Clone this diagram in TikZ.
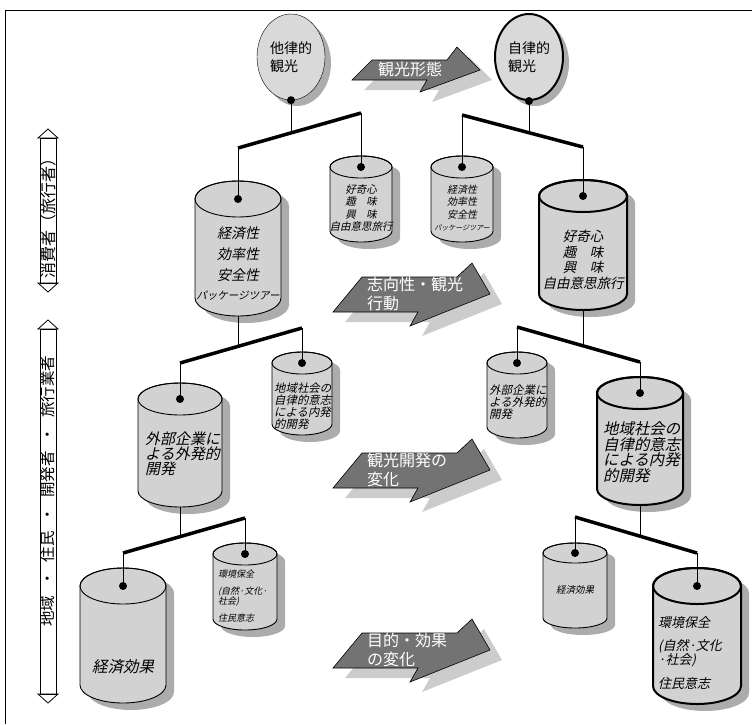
\documentclass[tikz,border=0pt]{standalone}
\usepackage{fontspec}
\setmainfont{Noto Sans CJK JP}
\newfontfamily\jpit[FakeSlant=0.22]{Noto Sans CJK JP}
\usetikzlibrary{shapes.geometric, shadows}
\newcommand{\fs}[2]{\fontsize{#1}{#2}\selectfont}
% drum: name, cx, top y, rx, ry, height, draw options
\newcommand{\drum}[7]{%
  \fill[gray!65] ({#2-#4+8},{#3+7}) -- ++(0,#6) arc[start angle=180,end angle=0,x radius=#4,y radius=#5]
    -- ++(0,-#6) arc[start angle=0,end angle=-180,x radius=#4,y radius=#5] -- cycle;
  \filldraw[fill=gray!35,#7] ({#2-#4},#3) -- ++(0,#6) arc[start angle=180,end angle=0,x radius=#4,y radius=#5]
    -- ++(0,-#6) arc[start angle=0,end angle=-180,x radius=#4,y radius=#5] -- cycle;
  \draw[#7] (#2,#3) ellipse[x radius=#4,y radius=#5];
  \coordinate (#1) at (#2,#3); \coordinate (#1-b) at (#2,{#3+#6+#5});}

\begin{document}
\begin{tikzpicture}[x=1pt,y=-1pt,bar/.style={line width=3.5pt},stem/.style={line width=0.9pt},
     ball/.style={ellipse, draw, fill=gray!30, minimum width=68pt, minimum height=86pt, inner sep=0pt, align=left,
     font=\fs{14}{18}, drop shadow={shadow xshift=6pt, shadow yshift=-6pt, fill=gray!65, opacity=1}},
     lbl/.style={inner sep=0pt, align=center},shaft/.style={fill=black!55, draw=black, line width=0.6pt},
     shaftshade/.style={fill=gray!40},arrtxt/.style={text=white, inner sep=0pt, align=left, font=\fs{16}{19}}]
     \useasboundingbox (0,0) rectangle (752,724);
     \draw[line width=1pt] (5,724) -- (5,10) -- (752,10);
     % side labels
     \draw[line width=0.8pt] (40,138) rectangle (56,283);\draw[line width=0.8pt] (38,138) -- (48,129) -- (58,138) -- cycle;
     \draw[line width=0.8pt] (38,283) -- (48,292) -- (58,283) -- cycle;
     \node[rotate=90, inner sep=0pt, font=\fs{16}{16}] (consumer) at (48,214) {消費者（旅行者）};
     \draw[line width=0.8pt] (40,329) rectangle (56,694);\draw[line width=0.8pt] (38,329) -- (48,320) -- (58,329) -- cycle;
     \draw[line width=0.8pt] (38,694) -- (48,703) -- (58,694) -- cycle;
     \node[rotate=90, inner sep=0pt, font=\fs{15.5}{15.5}] (locals) at (48,491)
       {地域\hspace{9pt}・\hspace{9pt}住民\hspace{9pt}・\hspace{9pt}開発者\hspace{9pt}・\hspace{9pt}旅行業者};
     % circles
     \node[ball] (heter) at (291,57) {他律的\\観光};\node[ball, line width=2pt] (auton) at (529,57) {自律的\\観光};
     % drums
     \drum{c1l}{238}{199}{43}{18}{99}{line width=0.9pt}\drum{s1l}{361}{167}{31}{11}{64}{line width=0.9pt}
     \drum{s1r}{462}{167}{31}{11}{64}{line width=0.9pt}\drum{c1r}{583}{196}{44}{16}{98}{line width=2pt}
     \drum{c2l}{180}{399}{42}{16}{92}{line width=0.9pt}\drum{s2l}{302}{363}{30}{11}{61}{line width=0.9pt}
     \drum{s2r}{517}{363}{30}{11}{64}{line width=0.9pt}\drum{c2r}{640}{393}{43}{16}{96}{line width=2pt}
     \drum{c3l}{123}{586}{43}{18}{99}{line width=0.9pt}\drum{s3l}{245}{554}{32}{11}{65}{line width=0.9pt}
     \drum{s3r}{575}{553}{32}{10}{65}{line width=0.9pt}\drum{c3r}{697}{586}{44}{18}{100}{line width=2pt}
     % drum texts
     \node[lbl, font=\jpit\fs{14}{21}] (c1l-t) at (238,264) {経済性\\効率性\\安全性\\[-2pt]{\fs{10.5}{12}パッケージツアー}};
     \node[lbl, font=\jpit\fs{10.5}{12.3}] (s1l-t) at (361,208) {好奇心\\趣　味\\興　味\\自由意思旅行};
     \node[lbl, font=\jpit\fs{10}{12.3}] (s1r-t) at (462,208) {経済性\\効率性\\安全性\\{\fs{7}{9}パッケージツアー}};
     \node[lbl, font=\jpit\fs{13.5}{15.5}] (c1r-t) at (583,260) {好奇心\\趣　味\\興　味\\自由意思旅行};
     \node[lbl, align=left, anchor=west, font=\jpit\fs{15}{15}] (c2l-t) at (145,454) {外部企業に\\よる外発的\\開発};
     \node[lbl, align=left, anchor=west, font=\jpit\fs{11.4}{12}] (s2l-t) at (274,406) {地域社会の\\自律的意志\\による内発\\的開発};
     \node[lbl, align=left, anchor=west, font=\jpit\fs{11.5}{12}] (s2r-t) at (489,402) {外部企業に\\よる外発的\\開発};
     \node[lbl, align=left, anchor=west, font=\jpit\fs{15.4}{15.5}] (c2r-t) at (603,452) {地域社会の\\自律的意志\\による内発\\的開発};
     \node[lbl, font=\jpit\fs{15.5}{16}] (c3l-t) at (123,667) {経済効果};
     \node[lbl, align=left, anchor=west, font=\jpit\fs{9}{10}] (s3l-t) at (218,596) {環境保全\\[7pt](自然·文化·\\社会)\\[7pt]住民意志};
     \node[lbl, font=\jpit\fs{9.5}{10}] (s3r-t) at (575,590) {経済効果};
     \node[lbl, align=left, anchor=west, font=\jpit\fs{13}{13}] (c3r-t) at (658,653) {環境保全\\[10pt](自然·文化\\·社会)\\[9pt]住民意志};
     % arrows
     \fill[shaftshade] (364,90) -- (384,70) -- (459,70) -- (469,57) -- (492,80) -- (432,102) -- (439,90) -- cycle;
     \filldraw[shaft] (352,80) -- (372,60) -- (447,60) -- (457,47) -- (480,70) -- (420,92) -- (427,80) -- cycle;
     \node[arrtxt] (a1) at (410,69) {観光形態};
     \foreach \n/\yy/\txt in {a2/277/{志向性・観光\\行動}, a3/453/{観光開発の\\変化}, a4/633/{目的・効果\\の変化}}{
       \fill[shaftshade] (345,\yy+45) -- (374,\yy+10) -- (469,\yy+10) -- (484,\yy-4) -- (502,\yy+27) -- (422,\yy+59) -- (430,\yy+45) -- cycle;
       \filldraw[shaft] (333,\yy+35) -- (362,\yy) -- (457,\yy) -- (472,\yy-14) -- (490,\yy+17) -- (410,\yy+49) -- (418,\yy+35) -- cycle;
       \node[arrtxt, anchor=west] (\n) at (367,\yy+17) {\txt};}
     % tree bars
     \coordinate (l1a) at (238,148);\coordinate (l1b) at (361,113);\coordinate (l1j) at (291,133);
     \coordinate (r1a) at (462,115);\coordinate (r1b) at (583,147);\coordinate (r1j) at (529,133);
     \coordinate (l2a) at (180,363);\coordinate (l2b) at (302,328);\coordinate (l2j) at (238,346);
     \coordinate (r2a) at (517,327);\coordinate (r2b) at (640,362);\coordinate (r2j) at (583,346);
     \coordinate (l3a) at (123,553);\coordinate (l3b) at (245,518);\coordinate (l3j) at (180,537);
     \coordinate (r3a) at (575,517);\coordinate (r3b) at (697,553);\coordinate (r3j) at (640,536);
     \draw[bar] (l1a) -- (l1b);\draw[bar] (r1a) -- (r1b);\draw[bar] (l2a) -- (l2b);
     \draw[bar] (r2a) -- (r2b);\draw[bar] (l3a) -- (l3b);\draw[bar] (r3a) -- (r3b);
     \draw[stem] (heter.south) -- (l1j);\draw[stem] (l1a) -- (c1l);\draw[stem] (l1b) -- (s1l);
     \draw[stem] (auton.south) -- (r1j);\draw[stem] (r1a) -- (s1r);\draw[stem] (r1b) -- (c1r);
     \draw[stem] (c1l-b) -- (l2j);\draw[stem] (l2a) -- (c2l);\draw[stem] (l2b) -- (s2l);
     \draw[stem] (c1r-b) -- (r2j);\draw[stem] (r2a) -- (s2r);\draw[stem] (r2b) -- (c2r);
     \draw[stem] (c2l-b) -- (l3j);\draw[stem] (l3a) -- (c3l);\draw[stem] (l3b) -- (s3l);
     \draw[stem] (c2r-b) -- (r3j);\draw[stem] (r3a) -- (s3r);\draw[stem] (r3b) -- (c3r);
     \foreach \k in {heter.south, auton.south, c1l, s1l, s1r, c1r, c2l, s2l, s2r, c2r, c3l, s3l, s3r, c3r}
       \fill (\k) circle[radius=4pt];
\end{tikzpicture}
\end{document}
